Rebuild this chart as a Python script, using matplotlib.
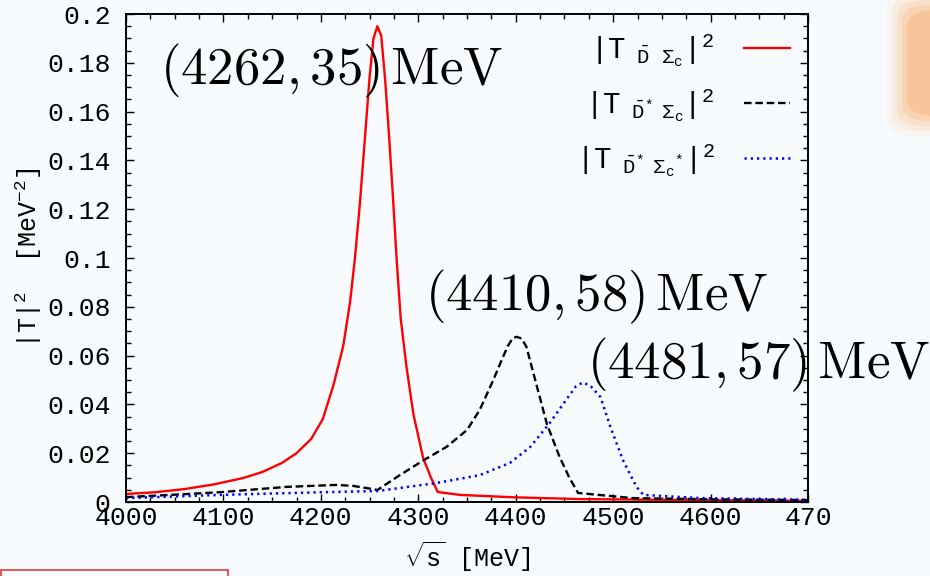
import matplotlib
matplotlib.use("Agg")
import matplotlib.pyplot as plt
from matplotlib.patches import FancyBboxPatch, Rectangle
from matplotlib.ticker import MultipleLocator, FixedLocator, FixedFormatter

# --- Datos --------------------------------------------------------------
x_dsc = [4000, 4030, 4060, 4090, 4120, 4140, 4160, 4175, 4190, 4202, 4213,
         4223, 4230, 4235, 4240, 4245, 4250, 4254, 4258, 4262, 4266, 4270,
         4274, 4278, 4282, 4288, 4295, 4305, 4313, 4320, 4343, 4400, 4466,
         4550, 4700]
y_dsc = [0.0033, 0.0040, 0.0053, 0.0072, 0.0098, 0.0123, 0.0160, 0.0200,
         0.0258, 0.0340, 0.0480, 0.0640, 0.0820, 0.1000, 0.1220, 0.1480,
         0.1740, 0.1900, 0.1950, 0.1910, 0.1730, 0.1500, 0.1250, 0.0980,
         0.0750, 0.0550, 0.0360, 0.0180, 0.0100, 0.0041, 0.0029, 0.0019,
         0.0012, 0.0009, 0.0005]

x_dssc = [4000, 4050, 4096, 4165, 4216, 4233, 4250, 4258, 4281, 4305, 4329,
          4350, 4363, 4377, 4387, 4392, 4397, 4401, 4406, 4411, 4422, 4432,
          4445, 4455, 4464, 4520, 4600, 4700]
y_dssc = [0.0020, 0.0030, 0.0040, 0.0062, 0.0070, 0.0066, 0.0055, 0.0049,
          0.0110, 0.0170, 0.0226, 0.0295, 0.0377, 0.0500, 0.0595, 0.0640,
          0.0672, 0.0677, 0.0670, 0.0636, 0.0470, 0.0320, 0.0185, 0.0100,
          0.0037, 0.0016, 0.0011, 0.0008]

x_dsscs = [4000, 4096, 4199, 4258, 4319, 4363, 4394, 4415, 4435, 4452, 4462,
           4469, 4477, 4487, 4497, 4510, 4524, 4531, 4589, 4700]
y_dsscs = [0.0016, 0.0029, 0.0040, 0.0045, 0.0078, 0.0110, 0.0160, 0.0226,
           0.0324, 0.0420, 0.0475, 0.0490, 0.0475, 0.0430, 0.0310, 0.0172,
           0.0062, 0.0029, 0.0016, 0.0009]

etiquetas = [r"$|\mathrm{T}\ \ _{\bar{\mathrm{D}}\ \ \ \Sigma_{\mathrm{c}}}|^{2}$",
             r"$|\mathrm{T}\ \ _{\bar{\mathrm{D}}^{*}\ \ \Sigma_{\mathrm{c}}}|^{2}$",
             r"$|\mathrm{T}\ \ _{\bar{\mathrm{D}}^{*}\ \ \Sigma_{\mathrm{c}}{}^{*}}|^{2}$"]

polos = [r"$(4262,35)\,\mathrm{MeV}$", r"$(4410,58)\,\mathrm{MeV}$",
         r"$(4481,57)\,\mathrm{MeV}$"]
polos_x = [4035, 4307, 4473]
polos_y = [0.1713, 0.0783, 0.0508]

xticks = [4000, 4100, 4200, 4300, 4400, 4500, 4600, 4700]
xticklabels = ["4000", "4100", "4200", "4300", "4400", "4500", "4600", "470"]
yticks = [0, 0.02, 0.04, 0.06, 0.08, 0.1, 0.12, 0.14, 0.16, 0.18, 0.2]
yticklabels = ["0", "0.02", "0.04", "0.06", "0.08", "0.1", "0.12", "0.14",
               "0.16", "0.18", "0.2"]

# --- Estilo ---------------------------------------------------------------
BG = "#f8fbfd"
MONO = "Liberation Mono"
plt.rcParams["font.family"] = [MONO, "DejaVu Sans"]
plt.rcParams["mathtext.fontset"] = "custom"
for k in ("rm", "it", "bf", "sf", "tt"):
    plt.rcParams["mathtext." + k] = MONO

fig = plt.figure(figsize=(9.3, 5.76), dpi=100, facecolor=BG)
ax = fig.add_axes([126/930, 1-502/576, (808-126)/930, (502-14)/576])
ax.set_facecolor(BG)

# decoración de la diapositiva (mancha naranja y recuadro rojo)
for i, a in enumerate([0.12, 0.18, 0.28, 0.45, 0.9]):
    d = (4 - i) * 5
    fig.patches.append(FancyBboxPatch(
        ((907 - d)/930, 1 - (116 + d)/576), (60 + 2*d)/930, (106 + 2*d)/576,
        boxstyle="round,pad=0,rounding_size=0.03", transform=fig.transFigure,
        fc="#f9c498", ec="none", alpha=a, zorder=-5))
fig.patches.append(Rectangle((1/930, -0.01), 227/930, 0.0205,
                             transform=fig.transFigure, fill=False,
                             ec="#e8393a", lw=1.2, zorder=-4))

ax.plot(x_dsc, y_dsc, color="red", lw=1.7, label=etiquetas[0])
ax.plot(x_dssc, y_dssc, color="black", lw=1.7, ls=(0, (3.2, 1.6)),
        label=etiquetas[1])
ax.plot(x_dsscs, y_dsscs, color="blue", lw=1.8, ls=(0, (0.9, 1.6)),
        label=etiquetas[2])

ax.set_xlim(4000, 4700)
ax.set_ylim(0, 0.2)
ax.xaxis.set_major_locator(FixedLocator(xticks))
ax.xaxis.set_major_formatter(FixedFormatter(xticklabels))
ax.yaxis.set_major_locator(FixedLocator(yticks))
ax.yaxis.set_major_formatter(FixedFormatter(yticklabels))
ax.xaxis.set_minor_locator(MultipleLocator(25))
ax.yaxis.set_minor_locator(MultipleLocator(0.005))
ax.tick_params(which="both", direction="in", top=True, right=True,
               width=1.0, labelsize=19)
ax.tick_params(which="major", length=6)
ax.tick_params(which="minor", length=3.5)
ax.tick_params(axis="x", pad=3)
ax.tick_params(axis="y", pad=11)
for s in ax.spines.values():
    s.set_linewidth(1.4)

ax.set_xlabel(r"$\sqrt{\mathrm{s}}$ [MeV]", fontsize=18, labelpad=7)
ax.set_ylabel(r"$|\mathrm{T}|^{2}$  [MeV$^{-2}$]", fontsize=18, labelpad=2)

for t, xx, yy in zip(polos, polos_x, polos_y):
    ax.text(xx, yy, t, fontsize=38, math_fontfamily="cm", va="baseline",
            ha="left", clip_on=False)

leg = ax.legend(loc="upper right", frameon=False, markerfirst=False,
                fontsize=21, handlelength=1.6, labelspacing=0.6,
                borderaxespad=0.2, handletextpad=1.0)

fig.savefig("out.png", dpi=100, facecolor=BG)
